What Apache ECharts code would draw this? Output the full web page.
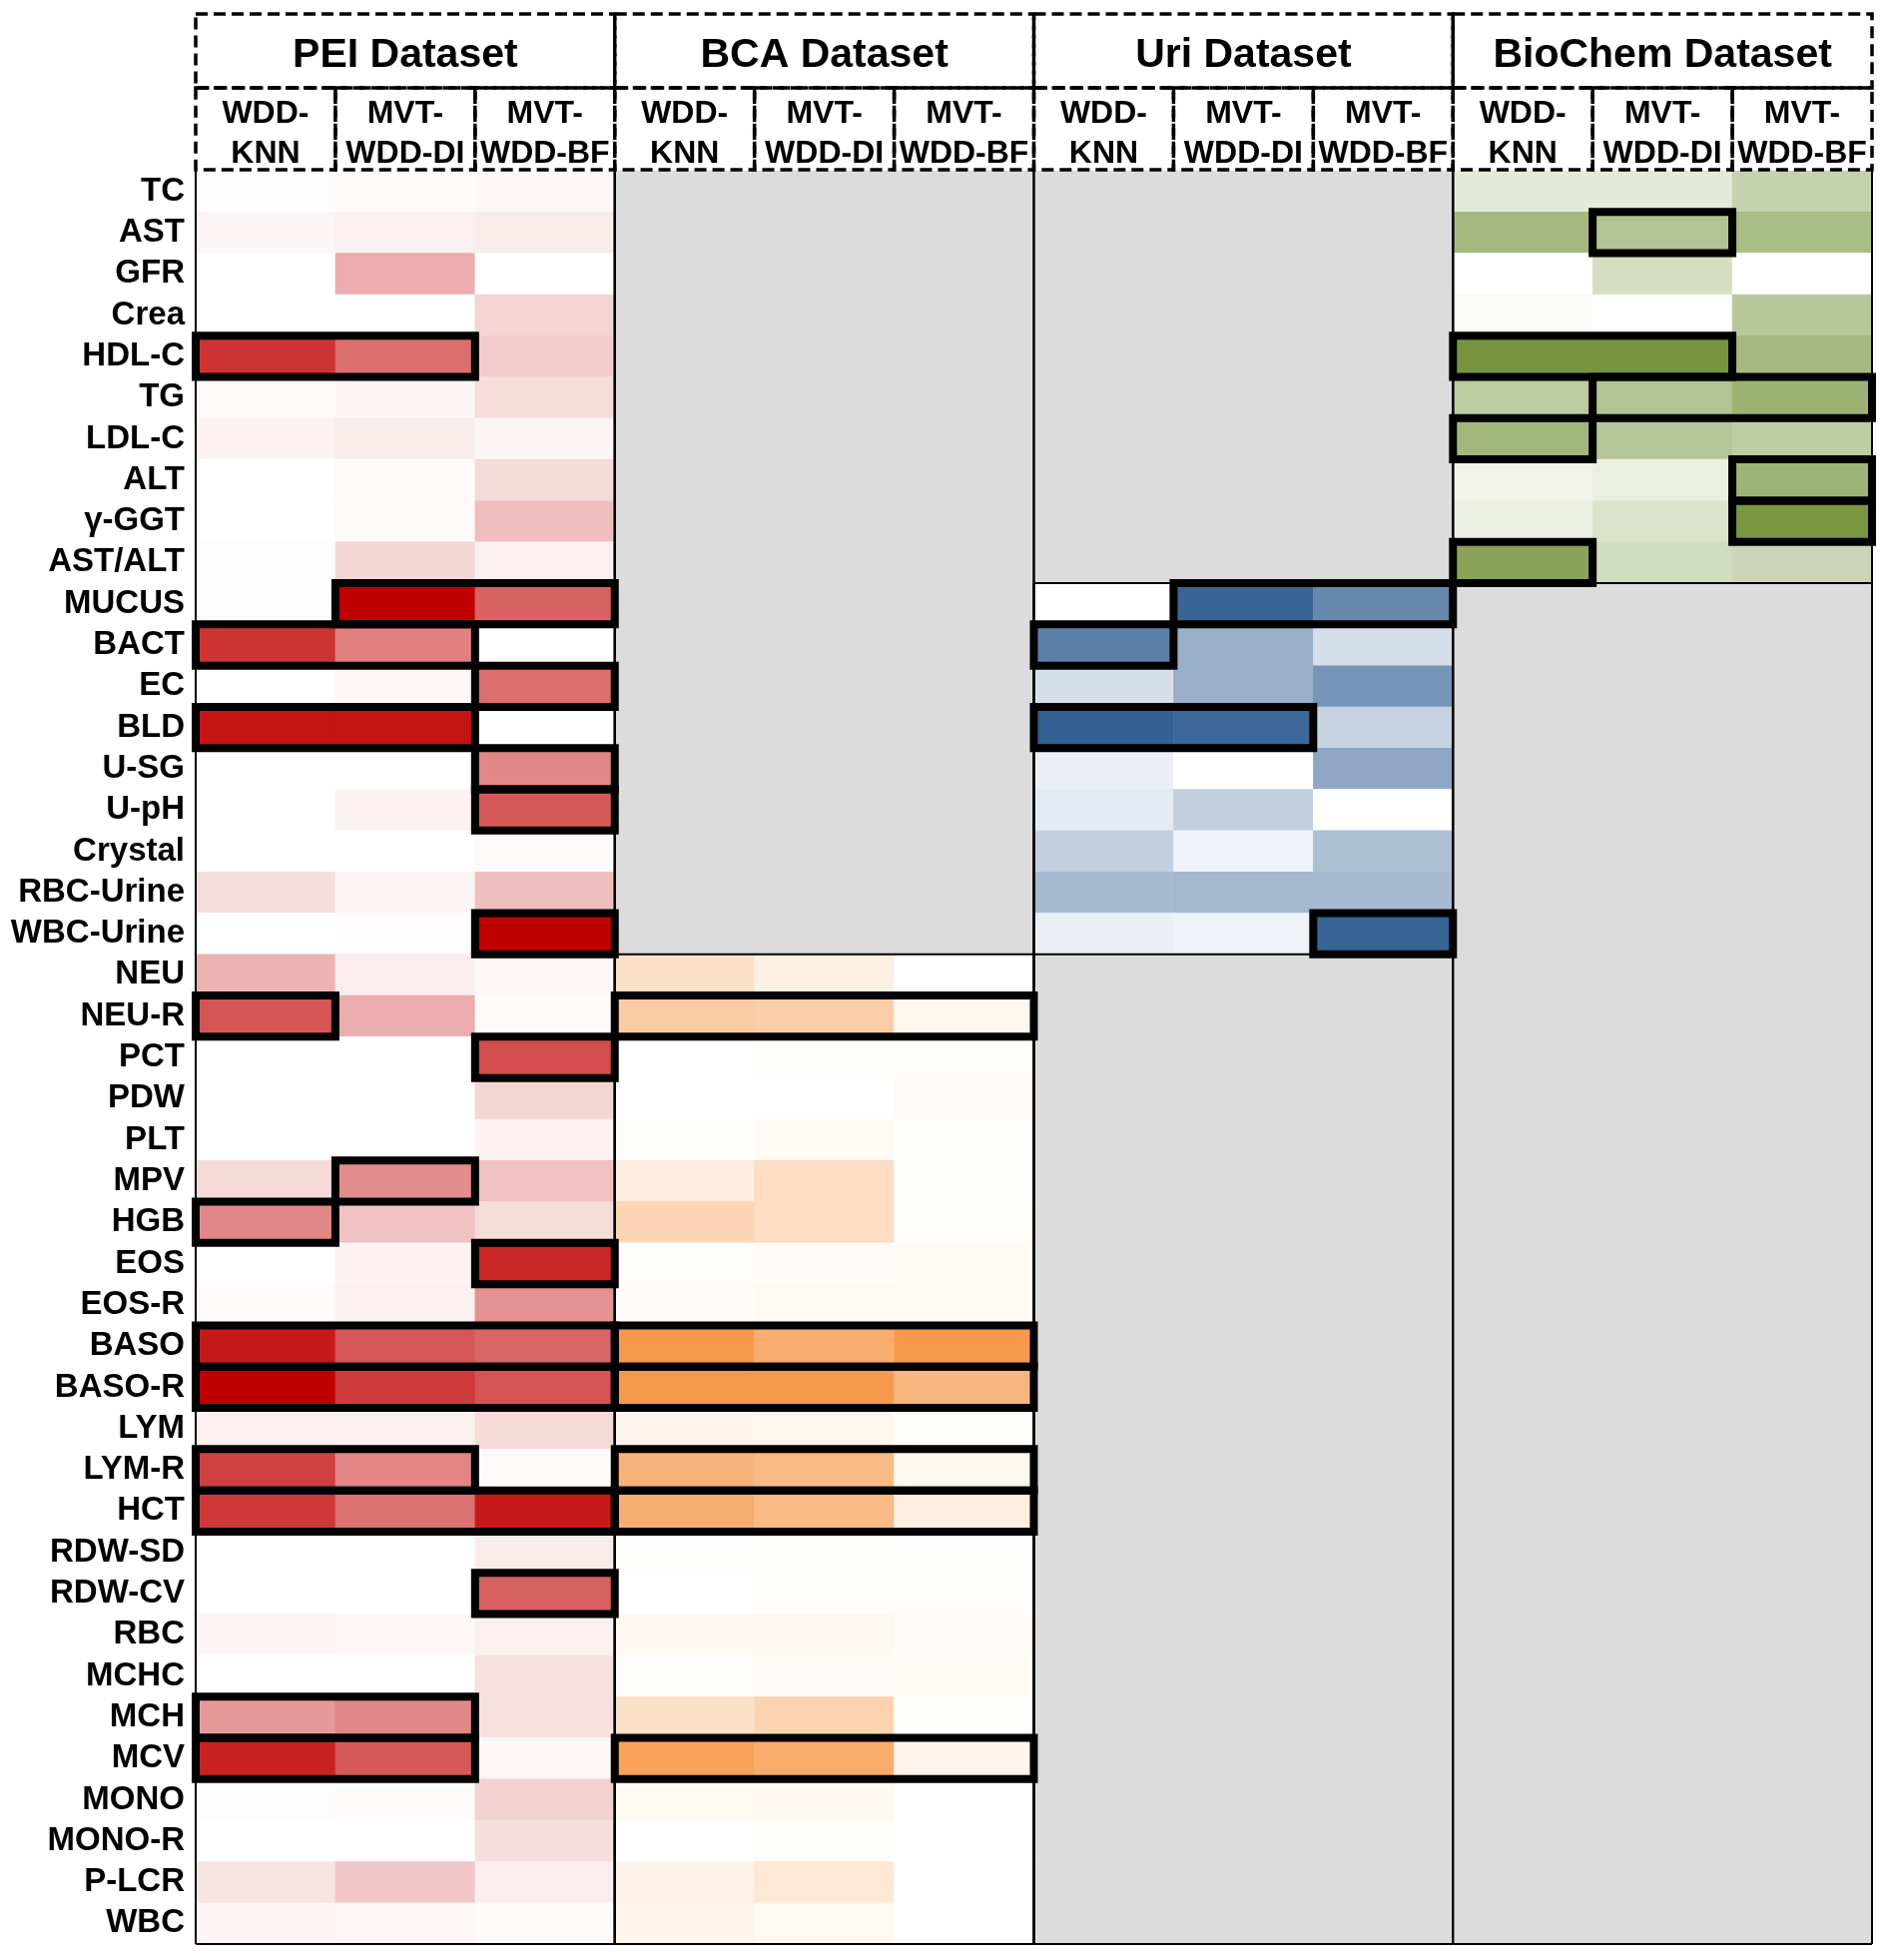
<!DOCTYPE html>
<html>
<head>
<meta charset="utf-8">
<title>WDD heatmap</title>
<script src="https://cdn.jsdelivr.net/npm/echarts@6.0.0/dist/echarts.min.js"></script>
<style>
  html, body { margin: 0; padding: 0; background: #fff; }
  #chart { width: 1894px; height: 1963px; }
</style>
</head>
<body>
<div id="chart"></div>
<script>
// row labels, top to bottom
var rows = ['TC', 'AST', 'GFR', 'Crea', 'HDL-C', 'TG', 'LDL-C', 'ALT', 'γ-GGT', 'AST/ALT',
    'MUCUS', 'BACT', 'EC', 'BLD', 'U-SG', 'U-pH', 'Crystal', 'RBC-Urine', 'WBC-Urine',
    'NEU', 'NEU-R', 'PCT', 'PDW', 'PLT', 'MPV', 'HGB', 'EOS', 'EOS-R', 'BASO', 'BASO-R',
    'LYM', 'LYM-R', 'HCT', 'RDW-SD', 'RDW-CV', 'RBC', 'MCHC', 'MCH', 'MCV', 'MONO',
    'MONO-R', 'P-LCR', 'WBC'];

var datasets = ['PEI Dataset', 'BCA Dataset', 'Uri Dataset', 'BioChem Dataset'];
var methods = ['WDD-\nKNN', 'MVT-\nWDD-DI', 'MVT-\nWDD-BF'];

// which rows each dataset has
var peiFeatures = rows.slice(0);
var bcaFeatures = rows.slice(19);
var uriFeatures = rows.slice(10, 19);
var bioFeatures = rows.slice(0, 10);

// values per feature: [WDD-KNN, MVT-WDD-DI, MVT-WDD-BF]
var peiValues = [
    [0.01, 0.02, 0.03], [0.04, 0.06, 0.08], [0, 0.32, 0], [0, 0, 0.17], [0.8, 0.57, 0.2],
    [0.02, 0.04, 0.14], [0.05, 0.08, 0.04], [0, 0.02, 0.15], [0, 0.02, 0.25], [0.01, 0.16, 0.06],
    [0.01, 1.0, 0.62], [0.8, 0.5, 0], [0, 0.03, 0.57], [0.92, 0.92, 0], [0, 0, 0.47],
    [0, 0.05, 0.65], [0, 0, 0.02], [0.13, 0.04, 0.25], [0, 0.01, 1.0],
    [0.3, 0.07, 0.03], [0.67, 0.32, 0.02], [0, 0, 0.7], [0, 0, 0.16], [0, 0, 0.05],
    [0.15, 0.45, 0.24], [0.47, 0.24, 0.14], [0, 0.05, 0.85], [0.02, 0.06, 0.43], [0.9, 0.66, 0.6],
    [1.0, 0.77, 0.67], [0.06, 0.06, 0.15], [0.75, 0.48, 0.02], [0.78, 0.55, 0.9], [0, 0, 0.08],
    [0, 0, 0.62], [0.04, 0.03, 0.06], [0, 0, 0.12], [0.4, 0.47, 0.12], [0.87, 0.65, 0.03],
    [0.01, 0.02, 0.18], [0, 0, 0.13], [0.11, 0.22, 0.07], [0.04, 0.03, 0.02]
];
var bcaValues = [
    [0.3, 0.15, 0], [0.5, 0.47, 0.08], [0, 0.03, 0.03], [0, 0, 0.04], [0.02, 0.05, 0.01],
    [0.18, 0.33, 0.02], [0.4, 0.33, 0.03], [0.02, 0.04, 0.05], [0.04, 0.06, 0.05], [0.97, 0.78, 0.97],
    [0.97, 0.97, 0.7], [0.09, 0.08, 0.03], [0.72, 0.66, 0.08], [0.77, 0.66, 0.17], [0.01, 0.03, 0.01],
    [0, 0.03, 0.02], [0.07, 0.07, 0.04], [0.02, 0.04, 0.05], [0.3, 0.42, 0.01], [0.9, 0.8, 0.1],
    [0.06, 0.07, 0], [0, 0.03, 0], [0.12, 0.22, 0], [0.1, 0.06, 0]
];
var uriValues = [
    [0, 0.97, 0.75], [0.8, 0.5, 0.2], [0.2, 0.5, 0.67], [1.0, 0.95, 0.28], [0.1, 0, 0.55],
    [0.13, 0.3, 0], [0.3, 0.08, 0.4], [0.43, 0.45, 0.43], [0.1, 0.08, 0.97]
];
var bioValues = [
    [0.2, 0.2, 0.42], [0.66, 0.56, 0.62], [0, 0.31, 0], [0.04, 0, 0.52], [1.0, 1.0, 0.66],
    [0.49, 0.56, 0.72], [0.68, 0.54, 0.48], [0.1, 0.15, 0.71], [0.15, 0.26, 0.98], [0.86, 0.34, 0.38]
];

// boxed (best) cells: [feature, first method, last method]
var peiBest = [['HDL-C', 0, 1], ['MUCUS', 1, 2], ['BACT', 0, 1], ['EC', 2, 2], ['BLD', 0, 1],
    ['U-SG', 2, 2], ['U-pH', 2, 2], ['WBC-Urine', 2, 2], ['NEU-R', 0, 0], ['PCT', 2, 2],
    ['MPV', 1, 1], ['HGB', 0, 0], ['EOS', 2, 2], ['BASO', 0, 2], ['BASO-R', 0, 2],
    ['LYM-R', 0, 1], ['HCT', 0, 2], ['RDW-CV', 2, 2], ['MCH', 0, 1], ['MCV', 0, 1]];
var bcaBest = [['NEU-R', 0, 2], ['BASO', 0, 2], ['BASO-R', 0, 2], ['LYM-R', 0, 2], ['HCT', 0, 2], ['MCV', 0, 2]];
var uriBest = [['MUCUS', 1, 2], ['BACT', 0, 0], ['BLD', 0, 1], ['WBC-Urine', 2, 2]];
var bioBest = [['AST', 1, 1], ['HDL-C', 0, 1], ['TG', 1, 2], ['LDL-C', 0, 0], ['ALT', 2, 2],
    ['γ-GGT', 2, 2], ['AST/ALT', 0, 0]];

var palette = ['#c00000', '#f79646', '#335f93', '#78943e'];
var FONT = "'Liberation Sans', Arial, sans-serif";

var features = [peiFeatures, bcaFeatures, uriFeatures, bioFeatures];
var values = [peiValues, bcaValues, uriValues, bioValues];
var best = [peiBest, bcaBest, uriBest, bioBest];

var columns = [];
datasets.forEach(function (d) {
    methods.forEach(function (m) { columns.push(d + ' ' + m); });
});

var series = [];
var visualMaps = [];
var naData = [];
var blocks = [];
var boxes = [];

features.forEach(function (feats, k) {
    var data = [];
    feats.forEach(function (f, i) {
        values[k][i].forEach(function (v, j) {
            data.push([k * 3 + j, rows.indexOf(f), v]);
        });
    });
    rows.forEach(function (r, ri) {
        if (feats.indexOf(r) < 0) {
            for (var j = 0; j < 3; j++) naData.push([k * 3 + j, ri, 0]);
        }
    });
    series.push({
        name: datasets[k],
        type: 'heatmap',
        data: data,
        z: 2,
        itemStyle: { borderWidth: 0 },
        emphasis: { disabled: true }
    });
    visualMaps.push({
        type: 'continuous', show: false, seriesIndex: k, dimension: 2,
        min: 0, max: 1, inRange: { color: ['#ffffff', palette[k]] }
    });
    blocks.push([k * 3, k * 3 + 2, 0, rows.length - 1]);
    blocks.push([k * 3, k * 3 + 2, rows.indexOf(feats[0]), rows.indexOf(feats[feats.length - 1])]);
    best[k].forEach(function (b) {
        boxes.push([k * 3 + b[1], k * 3 + b[2], rows.indexOf(b[0])]);
    });
});

series.push({
    name: 'n/a', type: 'heatmap', data: naData, z: 1,
    itemStyle: { color: '#dcdcdc', borderWidth: 0 },
    emphasis: { disabled: true }
});

function cellRect(api, x0, x1, y0, y1) {
    var s = api.size([1, 1]);
    var a = api.coord([x0, y0]);
    var b = api.coord([x1, y1]);
    return { x: a[0] - s[0] / 2, y: a[1] - s[1] / 2, width: b[0] - a[0] + s[0], height: b[1] - a[1] + s[1] };
}

// thin solid outlines of each dataset block
series.push({
    type: 'custom', z: 3, silent: true, clip: false,
    data: blocks.map(function (b) { return [b[0], b[2]]; }),
    renderItem: function (params, api) {
        var b = blocks[params.dataIndex];
        var r = cellRect(api, b[0], b[1], b[2], b[3]);
        var st = { stroke: '#000', lineWidth: 2 };
        var kids = [
            { type: 'line', shape: { x1: r.x, y1: r.y, x2: r.x, y2: r.y + r.height }, style: st },
            { type: 'line', shape: { x1: r.x + r.width, y1: r.y, x2: r.x + r.width, y2: r.y + r.height }, style: st },
            { type: 'line', shape: { x1: r.x, y1: r.y + r.height, x2: r.x + r.width, y2: r.y + r.height }, style: st }
        ];
        if (b[2] > 0) {
            kids.push({ type: 'line', shape: { x1: r.x, y1: r.y, x2: r.x + r.width, y2: r.y }, style: st });
        }
        return { type: 'group', children: kids };
    }
});

// thick boxes round the best cells
series.push({
    type: 'custom', z: 4, silent: true, clip: false,
    data: boxes.map(function (b) { return [b[0], b[2]]; }),
    renderItem: function (params, api) {
        var b = boxes[params.dataIndex];
        var r = cellRect(api, b[0], b[1], b[2], b[2]);
        return {
            type: 'rect', shape: r,
            style: { fill: 'none', stroke: '#000', lineWidth: 8 }
        };
    }
});

// dashed header: dataset names, then method names
var headerCells = [];
datasets.forEach(function (d, k) {
    headerCells.push({ x0: k * 3, x1: k * 3 + 2, level: 0, text: d });
    methods.forEach(function (m, j) {
        headerCells.push({ x0: k * 3 + j, x1: k * 3 + j, level: 1, text: m });
    });
});

series.push({
    type: 'custom', z: 5, silent: true, clip: false,
    data: headerCells.map(function (c) { return [c.x0, 0]; }),
    renderItem: function (params, api) {
        var c = headerCells[params.dataIndex];
        var r = cellRect(api, c.x0, c.x1, 0, 0);
        var top = r.y - 1;
        var h = c.level === 0 ? 74 : 82;
        var y = c.level === 0 ? top - 82 - 74 : top - 82;
        return {
            type: 'group',
            children: [{
                type: 'rect',
                shape: { x: r.x, y: y, width: r.width, height: h },
                style: { fill: 'none', stroke: '#000', lineWidth: 3.5, lineDash: [12, 6] }
            }, {
                type: 'text',
                x: r.x + r.width / 2,
                y: y + h / 2 + 5,
                style: {
                    text: c.text,
                    fill: '#000',
                    align: 'center',
                    verticalAlign: 'middle',
                    font: 'bold ' + (c.level === 0 ? 41 : 32) + 'px ' + FONT,
                    lineHeight: 40
                }
            }]
        };
    }
});

var option = {
    backgroundColor: '#ffffff',
    animation: false,
    grid: { left: 196, right: 19, top: 171, bottom: 16 },
    xAxis: {
        type: 'category',
        data: columns,
        show: false
    },
    yAxis: {
        type: 'category',
        data: rows,
        inverse: true,
        axisLine: { show: false },
        axisTick: { show: false },
        splitLine: { show: false },
        axisLabel: {
            interval: 0,
            color: '#000',
            fontWeight: 'bold',
            fontSize: 33,
            fontFamily: FONT,
            margin: 11,
            padding: [8, 0, 0, 0]
        }
    },
    visualMap: visualMaps,
    series: series
};

var myChart = echarts.init(document.getElementById('chart'));
myChart.setOption(option);
</script>
</body>
</html>
